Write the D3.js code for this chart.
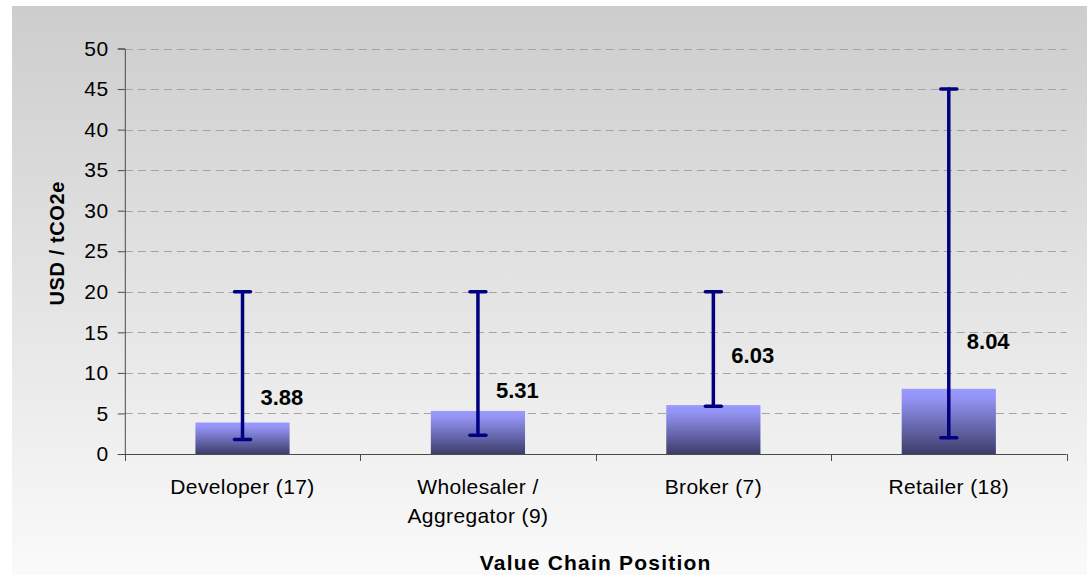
<!DOCTYPE html>
<html>
<head>
<meta charset="utf-8">
<script src="https://cdn.jsdelivr.net/npm/d3@7"></script>
<style>
  html, body { margin: 0; padding: 0; background: #ffffff; }
  svg { display: block; }
  text { font-family: "Liberation Sans", Arial, sans-serif; fill: #000; }
</style>
</head>
<body>
<script>
// ---- data ----
const categories = ["Developer (17)", "Wholesaler /\nAggregator (9)", "Broker (7)", "Retailer (18)"];
const averages   = [3.88, 5.31, 6.03, 8.04];
const lows       = [1.8, 2.3, 5.9, 2.0];
const highs      = [20, 20, 20, 45];
const labelAnchor = [6.0, 6.9, 11.2, 13.0]; // value-label baselines (data units)
const yTicks     = [0, 5, 10, 15, 20, 25, 30, 35, 40, 45, 50];
const yTitle = "USD / tCO2e";
const xTitle = "Value Chain Position";

// ---- layout ----
const W = 1087, H = 575;
const plot = { left: 124.8, right: 1066.5, top: 48.5, bottom: 454 };

const svg = d3.select("body").append("svg").attr("width", W).attr("height", H);
const defs = svg.append("defs");

const bg = defs.append("linearGradient").attr("id", "bg").attr("x1", 0).attr("y1", 0).attr("x2", 0).attr("y2", 1);
bg.append("stop").attr("offset", "0%").attr("stop-color", "#cdcdcd");
bg.append("stop").attr("offset", "100%").attr("stop-color", "#fafafa");

const bar = defs.append("linearGradient").attr("id", "bar").attr("x1", 0).attr("y1", 0).attr("x2", 0).attr("y2", 1);
bar.append("stop").attr("offset", "0%").attr("stop-color", "#9a9aff");
bar.append("stop").attr("offset", "15%").attr("stop-color", "#9393f3");
bar.append("stop").attr("offset", "100%").attr("stop-color", "#3d3d6b");

svg.append("rect").attr("x", 12).attr("y", 6).attr("width", W - 12).attr("height", H - 6).attr("fill", "url(#bg)");

const x = d3.scaleBand().domain(d3.range(categories.length))
  .range([plot.left, plot.right]).paddingInner(0.6).paddingOuter(0.3);
const xOuter = d3.scaleBand().domain(d3.range(categories.length))
  .range([plot.left, plot.right]).padding(0);
const y = d3.scaleLinear().domain([0, 50]).range([plot.bottom, plot.top]);

// gridlines
svg.append("g").selectAll("line").data(yTicks.filter(d => d > 0)).join("line")
  .attr("x1", plot.left).attr("x2", plot.right)
  .attr("y1", d => Math.round(y(d)) + 0.5).attr("y2", d => Math.round(y(d)) + 0.5)
  .attr("stroke", "#a3a3a3").attr("stroke-width", 1).attr("stroke-dasharray", "8,5");

// bars
svg.append("g").selectAll("rect").data(averages).join("rect")
  .attr("x", (d, i) => x(i)).attr("width", x.bandwidth())
  .attr("y", d => y(d)).attr("height", d => y(0) - y(d))
  .attr("fill", "url(#bar)");

// y axis
const yAxis = d3.axisLeft(y).tickValues(yTicks).tickSize(7).tickPadding(9).tickFormat(d3.format("d"));
const gy = svg.append("g").attr("transform", `translate(${plot.left},0)`).call(yAxis);
gy.select(".domain").attr("stroke", "#4a4a4a");
gy.selectAll(".tick line").attr("stroke", "#4a4a4a");
gy.selectAll(".tick text").attr("font-size", 21).attr("font-family", "Liberation Sans, Arial, sans-serif")
  .attr("fill", "#000").style("letter-spacing", "0.6px");

// x axis (ticks at category boundaries)
const gx = svg.append("g").attr("transform", `translate(0,${plot.bottom})`);
gx.append("line").attr("x1", plot.left).attr("x2", plot.right).attr("y1", 0.5).attr("y2", 0.5).attr("stroke", "#4a4a4a");
const bounds = d3.range(categories.length + 1).map(i => i < categories.length ? xOuter(i) : plot.right);
gx.selectAll("line.tk").data(bounds).join("line").attr("class", "tk")
  .attr("x1", d => Math.round(d) + 0.5).attr("x2", d => Math.round(d) + 0.5)
  .attr("y1", 0).attr("y2", 7).attr("stroke", "#4a4a4a");

// x category labels
const catG = svg.append("g");
categories.forEach((c, i) => {
  const cx = xOuter(i) + xOuter.bandwidth() / 2;
  const t = catG.append("text").attr("x", cx).attr("y", plot.bottom + 40)
    .attr("text-anchor", "middle").attr("font-size", 21).style("letter-spacing", "0.4px");
  c.split("\n").forEach((line, k) => {
    t.append("tspan").attr("x", cx).attr("dy", k === 0 ? 0 : 29).text(line);
  });
});

// error bars
const eb = svg.append("g").attr("stroke", "#000080").attr("stroke-width", 3.5).attr("stroke-linecap", "round");
averages.forEach((v, i) => {
  const cx = x(i) + x.bandwidth() / 2;
  eb.append("line").attr("x1", cx).attr("x2", cx).attr("y1", y(lows[i])).attr("y2", y(highs[i]));
  eb.append("line").attr("x1", cx - 8).attr("x2", cx + 8).attr("y1", y(lows[i])).attr("y2", y(lows[i]));
  eb.append("line").attr("x1", cx - 8).attr("x2", cx + 8).attr("y1", y(highs[i])).attr("y2", y(highs[i]));
});

// value labels
svg.append("g").selectAll("text").data(averages).join("text")
  .attr("x", (d, i) => x(i) + x.bandwidth() / 2 + 18)
  .attr("y", (d, i) => y(labelAnchor[i]))
  .attr("font-size", 22).attr("font-weight", "bold")
  .text(d => d.toFixed(2));

// axis titles
svg.append("text").attr("x", (plot.left + plot.right) / 2).attr("y", 570)
  .attr("text-anchor", "middle").attr("font-size", 21).attr("font-weight", "bold")
  .style("letter-spacing", "1.2px").text(xTitle);
svg.append("text").attr("transform", `translate(64,${(plot.top + plot.bottom) / 2 - 8}) rotate(-90)`)
  .attr("text-anchor", "middle").attr("font-size", 20).attr("font-weight", "bold")
  .style("letter-spacing", "0.6px").text(yTitle);
</script>
</body>
</html>
